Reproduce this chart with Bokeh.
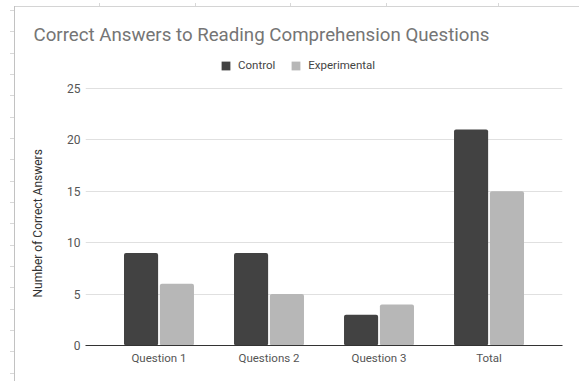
from bokeh.plotting import figure
from bokeh.models import (FactorRange, ColumnDataSource, Legend, LegendItem,
                          FixedTicker, Title, Range1d)
from bokeh.transform import dodge
from bokeh.embed import file_html
from bokeh.resources import INLINE

# ---- data ----
categories = ["Question 1", "Questions 2", "Question 3", "Total"]
control = [9, 9, 3, 21]
experimental = [6, 5, 4, 15]
series_names = ["Control", "Experimental"]
y_ticks = [0, 5, 10, 15, 20, 25]
title_text = "Correct Answers to Reading Comprehension Questions"
y_label = "Number of Correct Answers"

src = ColumnDataSource(dict(cat=categories, control=control, experimental=experimental))

FONT = "Roboto"

# frame spans from y=54px to y=345px; the 25 gridline must sit at y=88px
FRAME_TOP, FRAME_BOTTOM, TOP_TICK_PX = 54, 345, 88
y_end = y_ticks[-1] * (FRAME_BOTTOM - FRAME_TOP) / (FRAME_BOTTOM - TOP_TICK_PX)

bg = ", ".join(
    ["linear-gradient(#fff,#fff) 15px 7px / 564px 374px no-repeat",
     "linear-gradient(#c2c2c2,#c2c2c2) 14px 6px / 1px 375px no-repeat",
     "linear-gradient(#d4d4d4,#d4d4d4) 14px 6px / 565px 1px no-repeat"]
    + ["linear-gradient(#d8d8d8,#d8d8d8) %dpx 3px / 1px 3px no-repeat" % x
       for x in (99, 195, 290, 386, 498)]
    + ["repeating-linear-gradient(to bottom, transparent 0px, transparent 10px, "
       "#d8d8d8 10px, #d8d8d8 11px, transparent 11px, transparent 21.33px) "
       "10px 0px / 4px 381px no-repeat"]
)

p = figure(
    width=579, height=381,
    x_range=FactorRange(factors=categories, range_padding=0.084),
    y_range=Range1d(0, y_end),
    output_backend="svg", toolbar_location=None,
    min_border_left=85, min_border_right=17, min_border_top=FRAME_TOP,
    min_border_bottom=381 - FRAME_BOTTOM,
    border_fill_color=None, background_fill_color="white",
    outline_line_color=None,
    styles={"background": bg},
)
p.title = Title(text=title_text, text_font=FONT, text_font_size="18.7px",
                text_font_style="normal", text_color="#757575",
                align="left", offset=-52, standoff=17)

r1 = p.vbar(x=dodge("cat", -0.163, range=p.x_range), top="control", width=0.31,
            source=src, fill_color="#424242", line_color=None, border_radius=2)
r2 = p.vbar(x=dodge("cat", 0.163, range=p.x_range), top="experimental", width=0.31,
            source=src, fill_color="#b7b7b7", line_color=None, border_radius=2)

# axes
p.xaxis.axis_line_color = "#333333"
p.xaxis.axis_line_width = 1.2
p.xaxis.major_tick_line_color = None
p.xaxis.minor_tick_line_color = None
p.xaxis.major_tick_out = 0
p.xaxis.major_tick_in = 0
p.xaxis.major_label_standoff = 5
p.xaxis.major_label_text_font = FONT
p.xaxis.major_label_text_font_size = "11.5px"
p.xaxis.major_label_text_color = "#555555"

p.yaxis.ticker = FixedTicker(ticks=y_ticks)
p.yaxis.axis_line_color = None
p.yaxis.major_tick_line_color = None
p.yaxis.minor_tick_line_color = None
p.yaxis.major_tick_out = 0
p.yaxis.major_tick_in = 0
p.yaxis.major_label_standoff = 5
p.yaxis.major_label_text_font = FONT
p.yaxis.major_label_text_font_size = "12px"
p.yaxis.major_label_text_color = "#555555"

# y-axis title, placed along the 0..25 part of the axis
p.add_layout(Title(text=y_label, text_font=FONT, text_font_size="12px",
                   text_font_style="normal", text_color="#333333",
                   align="left", offset=48, standoff=40), "left")

p.xgrid.grid_line_color = None
p.ygrid.grid_line_color = "#e0e0e0"
p.ygrid.grid_line_width = 1

# legend
legend = Legend(
    items=[LegendItem(label=series_names[0], renderers=[r1]),
           LegendItem(label=series_names[1], renderers=[r2])],
    orientation="horizontal", location=(135, 273),
    padding=0, margin=0, spacing=15, label_standoff=7,
    glyph_width=11, glyph_height=11, label_height=11,
    border_line_color=None, background_fill_alpha=0,
    label_text_font=FONT, label_text_font_size="11.5px", label_text_color="#444444",
)
p.add_layout(legend, "center")

open("out.html", "w").write(file_html(p, INLINE))
